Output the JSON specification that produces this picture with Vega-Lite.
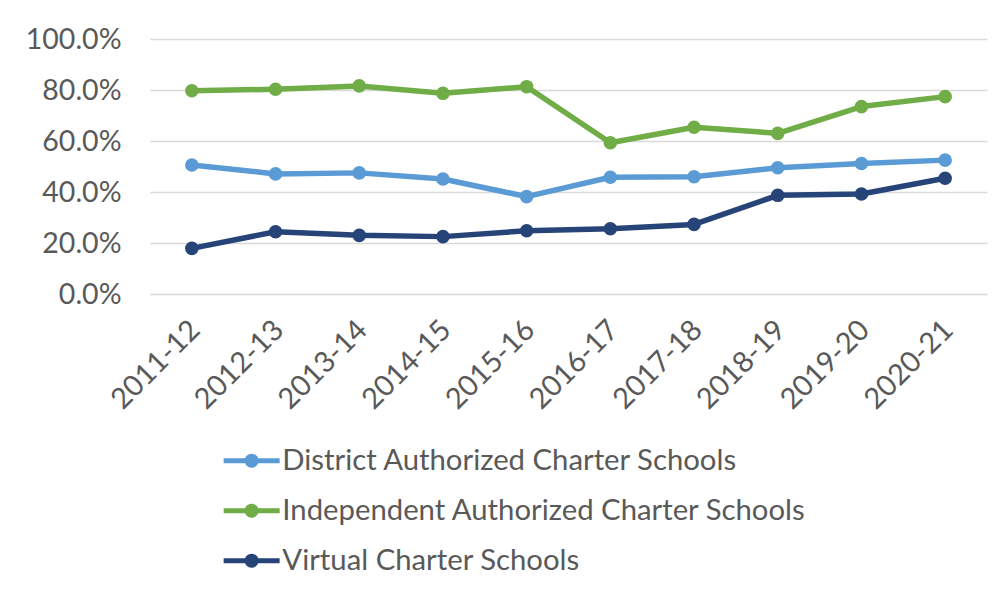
{
  "$schema": "https://vega.github.io/schema/vega-lite/v6.json",
  "autosize": {"type": "none"},
  "padding": {"left": 150, "top": 39, "right": 18, "bottom": 298},
  "width": 837,
  "height": 255,
  "background": "white",
  "config": {
    "view": {"stroke": null},
    "font": "Lato",
    "axis": {"labelFont": "Lato", "labelColor": "#595959", "labelFontSize": 28.5},
    "legend": {"labelFont": "Lato", "labelColor": "#595959", "labelFontSize": 29.3}
  },
  "data": {
    "values": [
      {"year": "2011-12", "series": "District Authorized Charter Schools", "value": 0.506},
      {"year": "2012-13", "series": "District Authorized Charter Schools", "value": 0.471},
      {"year": "2013-14", "series": "District Authorized Charter Schools", "value": 0.475},
      {"year": "2014-15", "series": "District Authorized Charter Schools", "value": 0.451},
      {"year": "2015-16", "series": "District Authorized Charter Schools", "value": 0.382},
      {"year": "2016-17", "series": "District Authorized Charter Schools", "value": 0.458},
      {"year": "2017-18", "series": "District Authorized Charter Schools", "value": 0.460},
      {"year": "2018-19", "series": "District Authorized Charter Schools", "value": 0.495},
      {"year": "2019-20", "series": "District Authorized Charter Schools", "value": 0.512},
      {"year": "2020-21", "series": "District Authorized Charter Schools", "value": 0.525},
      {"year": "2011-12", "series": "Independent Authorized Charter Schools", "value": 0.797},
      {"year": "2012-13", "series": "Independent Authorized Charter Schools", "value": 0.803},
      {"year": "2013-14", "series": "Independent Authorized Charter Schools", "value": 0.816},
      {"year": "2014-15", "series": "Independent Authorized Charter Schools", "value": 0.787},
      {"year": "2015-16", "series": "Independent Authorized Charter Schools", "value": 0.813},
      {"year": "2016-17", "series": "Independent Authorized Charter Schools", "value": 0.593},
      {"year": "2017-18", "series": "Independent Authorized Charter Schools", "value": 0.654},
      {"year": "2018-19", "series": "Independent Authorized Charter Schools", "value": 0.630},
      {"year": "2019-20", "series": "Independent Authorized Charter Schools", "value": 0.735},
      {"year": "2020-21", "series": "Independent Authorized Charter Schools", "value": 0.774},
      {"year": "2011-12", "series": "Virtual Charter Schools", "value": 0.179},
      {"year": "2012-13", "series": "Virtual Charter Schools", "value": 0.244},
      {"year": "2013-14", "series": "Virtual Charter Schools", "value": 0.230},
      {"year": "2014-15", "series": "Virtual Charter Schools", "value": 0.225},
      {"year": "2015-16", "series": "Virtual Charter Schools", "value": 0.248},
      {"year": "2016-17", "series": "Virtual Charter Schools", "value": 0.256},
      {"year": "2017-18", "series": "Virtual Charter Schools", "value": 0.273},
      {"year": "2018-19", "series": "Virtual Charter Schools", "value": 0.387},
      {"year": "2019-20", "series": "Virtual Charter Schools", "value": 0.392},
      {"year": "2020-21", "series": "Virtual Charter Schools", "value": 0.454}
    ]
  },
  "encoding": {
    "x": {
      "field": "year", "type": "ordinal",
      "scale": {"type": "point", "padding": 0.5},
      "axis": {"title": null, "labelAngle": -45, "domain": false, "ticks": false, "grid": false, "labelPadding": 21, "labelOffset": -7, "labelFontSize": 29}
    },
    "y": {
      "field": "value", "type": "quantitative",
      "scale": {"domain": [0, 1]},
      "axis": {"title": null, "format": ".1%", "values": [0, 0.2, 0.4, 0.6, 0.8, 1], "domain": false, "ticks": false, "labelPadding": 29, "gridColor": "#D9D9D9", "gridWidth": 1.5}
    },
    "color": {
      "field": "series", "type": "nominal",
      "scale": {"domain": ["District Authorized Charter Schools", "Independent Authorized Charter Schools", "Virtual Charter Schools"], "range": ["#5B9BD5", "#70AD47", "#264478"]},
      "legend": {
        "title": null, "orient": "none", "direction": "vertical",
        "legendX": 87, "legendY": 407, "padding": 0,
        "symbolType": "M-4,-0.36 L4,-0.36 L4,0.36 L-4,0.36 Z M-1,0 A1,1 0 1,1 1,0 A1,1 0 1,1 -1,0 Z",
        "symbolSize": 196, "symbolStrokeWidth": 0, "symbolOpacity": 1,
        "labelOffset": 16, "rowPadding": 20, "labelLimit": 0
      }
    }
  },
  "layer": [
    {"mark": {"type": "line", "strokeWidth": 5.5, "strokeCap": "round", "strokeJoin": "round"}},
    {"mark": {"type": "point", "filled": true, "size": 185, "opacity": 1}}
  ]
}
